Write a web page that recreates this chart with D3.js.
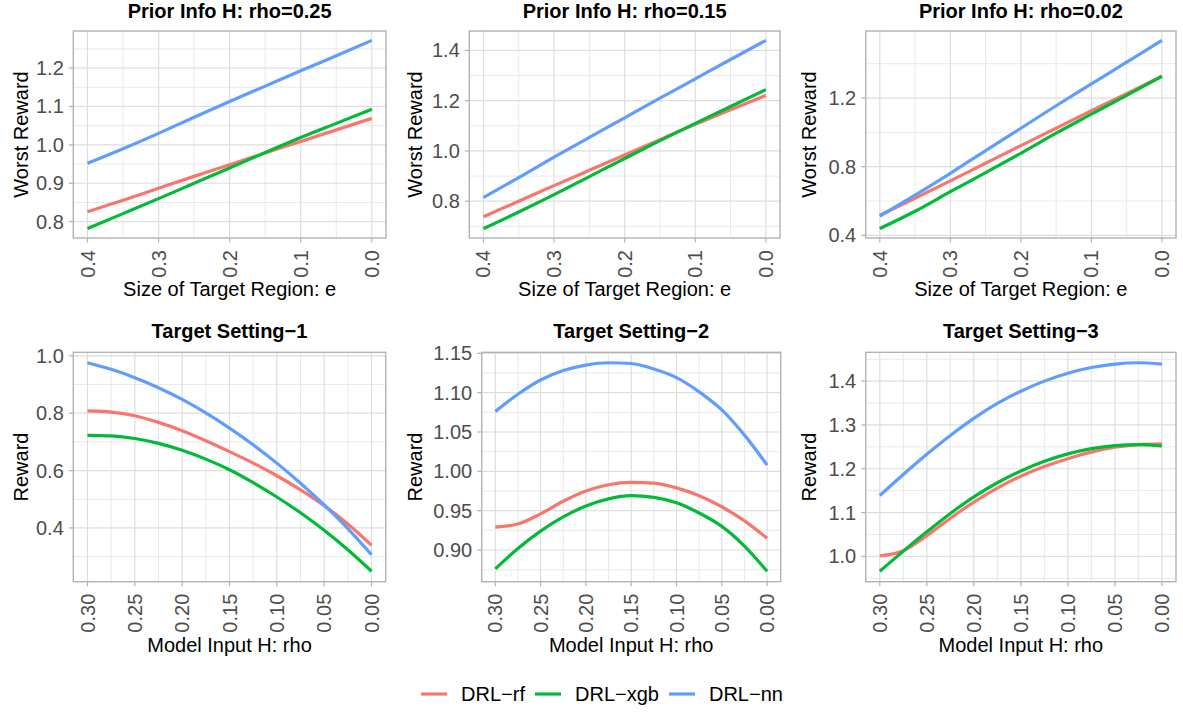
<!DOCTYPE html>
<html>
<head>
<meta charset="utf-8">
<script src="https://cdn.jsdelivr.net/npm/d3@7"></script>
<style>
  html, body { margin: 0; padding: 0; background: #ffffff; }
  svg { display: block; font-family: "Liberation Sans", Arial, Helvetica, sans-serif; }
</style>
</head>
<body>
<svg id="chart" width="1183" height="713"></svg>
<script>
// ---------------- DATA ----------------
const seriesNames = ["DRL\u2212rf", "DRL\u2212xgb", "DRL\u2212nn"];

const panelTitles = [
  "Prior Info H: rho=0.25", "Prior Info H: rho=0.15", "Prior Info H: rho=0.02",
  "Target Setting\u22121", "Target Setting\u22122", "Target Setting\u22123"
];
const topXTitle = "Size of Target Region: e";
const bottomXTitle = "Model Input H: rho";
const topYTitle = "Worst Reward";
const bottomYTitle = "Reward";

// x values
const eValues   = [0.40, 0.35, 0.30, 0.25, 0.20, 0.15, 0.10, 0.05, 0.00];
const rhoValues = [0.300, 0.275, 0.250, 0.225, 0.200, 0.175, 0.150, 0.125, 0.100, 0.075, 0.050, 0.025, 0.000];

// Panel 1: rho = 0.25
const p1_rf  = [0.826, 0.856, 0.887, 0.918, 0.948, 0.979, 1.009, 1.039, 1.069];
const p1_xgb = [0.782, 0.821, 0.860, 0.900, 0.940, 0.980, 1.019, 1.056, 1.093];
const p1_nn  = [0.952, 0.990, 1.030, 1.072, 1.113, 1.153, 1.193, 1.232, 1.272];
// Panel 2: rho = 0.15
const p2_rf  = [0.738, 0.800, 0.862, 0.923, 0.984, 1.045, 1.106, 1.164, 1.221];
const p2_xgb = [0.691, 0.757, 0.826, 0.898, 0.970, 1.041, 1.110, 1.177, 1.244];
const p2_nn  = [0.815, 0.894, 0.975, 1.054, 1.132, 1.210, 1.287, 1.364, 1.440];
// Panel 3: rho = 0.02
const p3_rf  = [0.517, 0.616, 0.717, 0.820, 0.923, 1.024, 1.126, 1.226, 1.327];
const p3_xgb = [0.439, 0.540, 0.654, 0.765, 0.878, 0.995, 1.106, 1.216, 1.327];
const p3_nn  = [0.511, 0.634, 0.761, 0.894, 1.024, 1.155, 1.282, 1.409, 1.536];
// Panel 4: Target Setting-1
const p4_rf  = [0.808, 0.804, 0.791, 0.768, 0.739, 0.704, 0.666, 0.626, 0.582, 0.533, 0.478, 0.414, 0.340];
const p4_xgb = [0.723, 0.721, 0.712, 0.695, 0.671, 0.640, 0.603, 0.558, 0.508, 0.453, 0.392, 0.324, 0.249];
const p4_nn  = [0.976, 0.953, 0.924, 0.889, 0.848, 0.801, 0.748, 0.690, 0.626, 0.556, 0.480, 0.398, 0.307];
// Panel 5: Target Setting-2
const p5_rf  = [0.929, 0.933, 0.946, 0.962, 0.975, 0.983, 0.986, 0.985, 0.979, 0.969, 0.955, 0.937, 0.915];
const p5_xgb = [0.876, 0.902, 0.924, 0.942, 0.956, 0.965, 0.969, 0.967, 0.960, 0.947, 0.930, 0.905, 0.873];
const p5_nn  = [1.076, 1.098, 1.116, 1.128, 1.135, 1.138, 1.137, 1.130, 1.119, 1.101, 1.078, 1.046, 1.008];
// Panel 6: Target Setting-3
const p6_rf  = [1.001, 1.013, 1.047, 1.087, 1.124, 1.156, 1.183, 1.205, 1.223, 1.238, 1.249, 1.255, 1.257];
const p6_xgb = [0.966, 1.012, 1.056, 1.098, 1.136, 1.168, 1.195, 1.217, 1.234, 1.246, 1.253, 1.255, 1.252];
const p6_nn  = [1.139, 1.187, 1.233, 1.276, 1.315, 1.349, 1.377, 1.400, 1.418, 1.431, 1.439, 1.442, 1.439];

// tick values / labels
const topXTicks = [0.4, 0.3, 0.2, 0.1, 0.0];
const topXTickLabels = ["0.4", "0.3", "0.2", "0.1", "0.0"];
const bottomXTicks = [0.30, 0.25, 0.20, 0.15, 0.10, 0.05, 0.00];
const bottomXTickLabels = ["0.30", "0.25", "0.20", "0.15", "0.10", "0.05", "0.00"];
const p1YTicks = [0.8, 0.9, 1.0, 1.1, 1.2];
const p1YTickLabels = ["0.8", "0.9", "1.0", "1.1", "1.2"];
const p2YTicks = [0.8, 1.0, 1.2, 1.4];
const p2YTickLabels = ["0.8", "1.0", "1.2", "1.4"];
const p3YTicks = [0.4, 0.8, 1.2];
const p3YTickLabels = ["0.4", "0.8", "1.2"];
const p4YTicks = [0.4, 0.6, 0.8, 1.0];
const p4YTickLabels = ["0.4", "0.6", "0.8", "1.0"];
const p5YTicks = [0.90, 0.95, 1.00, 1.05, 1.10, 1.15];
const p5YTickLabels = ["0.90", "0.95", "1.00", "1.05", "1.10", "1.15"];
const p6YTicks = [1.0, 1.1, 1.2, 1.3, 1.4];
const p6YTickLabels = ["1.0", "1.1", "1.2", "1.3", "1.4"];

// ---------------- STYLE / LAYOUT ----------------
const colors = ["#F8766D", "#00BA38", "#619CFF"];
const FONT_TICK = 20;
const FONT_AXIS = 20;
const FONT_TITLE = 20;
const FONT_LEGEND = 20;

const colLefts = [0, 394.33, 788.67];

const panels = [
  {x: eValues, series: [p1_rf, p1_xgb, p1_nn], xt: topXTicks, xtl: topXTickLabels, yt: p1YTicks, ytl: p1YTickLabels,
   rect: [73.3, 31, 386, 238], col: 0, xTitle: topXTitle, yTitle: topYTitle, xTitleY: 296, titleY: 18.3},
  {x: eValues, series: [p2_rf, p2_xgb, p2_nn], xt: topXTicks, xtl: topXTickLabels, yt: p2YTicks, ytl: p2YTickLabels,
   rect: [469.3, 31, 780, 238], col: 1, xTitle: topXTitle, yTitle: topYTitle, xTitleY: 296, titleY: 18.3},
  {x: eValues, series: [p3_rf, p3_xgb, p3_nn], xt: topXTicks, xtl: topXTickLabels, yt: p3YTicks, ytl: p3YTickLabels,
   rect: [865.7, 31, 1176, 238], col: 2, xTitle: topXTitle, yTitle: topYTitle, xTitleY: 296, titleY: 18.3},
  {x: rhoValues, series: [p4_rf, p4_xgb, p4_nn], xt: bottomXTicks, xtl: bottomXTickLabels, yt: p4YTicks, ytl: p4YTickLabels,
   rect: [73.3, 352.3, 385.7, 581.7], col: 0, xTitle: bottomXTitle, yTitle: bottomYTitle, xTitleY: 652, titleY: 337.5},
  {x: rhoValues, series: [p5_rf, p5_xgb, p5_nn], xt: bottomXTicks, xtl: bottomXTickLabels, yt: p5YTicks, ytl: p5YTickLabels,
   rect: [481.7, 352.3, 780.7, 581.7], col: 1, xTitle: bottomXTitle, yTitle: bottomYTitle, xTitleY: 652, titleY: 337.5},
  {x: rhoValues, series: [p6_rf, p6_xgb, p6_nn], xt: bottomXTicks, xtl: bottomXTickLabels, yt: p6YTicks, ytl: p6YTickLabels,
   rect: [865.7, 352.3, 1176, 581.7], col: 2, xTitle: bottomXTitle, yTitle: bottomYTitle, xTitleY: 652, titleY: 337.5}
];

const svg = d3.select("#chart");

function minorBreaks(ticks, domain) {
  const step = ticks[1] - ticks[0];
  const lo = Math.min(domain[0], domain[1]), hi = Math.max(domain[0], domain[1]);
  const out = [];
  const all = [ticks[0] - step].concat(ticks, [ticks[ticks.length - 1] + step]);
  for (let i = 0; i < all.length - 1; i++) {
    const m = (all[i] + all[i + 1]) / 2;
    if (m >= lo && m <= hi) out.push(m);
  }
  return out;
}

panels.forEach((p, idx) => {
  const [x0, y0, x1, y1] = p.rect;
  const xmin = d3.min(p.x), xmax = d3.max(p.x);
  const xpad = (xmax - xmin) * 0.05;
  const x = d3.scaleLinear().domain([xmax + xpad, xmin - xpad]).range([x0, x1]);
  const allY = p.series.flat();
  const ymin = d3.min(allY), ymax = d3.max(allY);
  const ypad = (ymax - ymin) * 0.05;
  const y = d3.scaleLinear().domain([ymin - ypad, ymax + ypad]).range([y1, y0]);

  const g = svg.append("g");

  // minor grid
  const xMinor = minorBreaks(p.xt.slice().sort((a, b) => a - b), x.domain());
  const yMinor = minorBreaks(p.yt, y.domain());
  g.selectAll(".xmin").data(xMinor).enter().append("line")
    .attr("x1", d => x(d)).attr("x2", d => x(d)).attr("y1", y0).attr("y2", y1)
    .attr("stroke", "#e3e3e3").attr("stroke-width", 0.8);
  g.selectAll(".ymin").data(yMinor).enter().append("line")
    .attr("y1", d => y(d)).attr("y2", d => y(d)).attr("x1", x0).attr("x2", x1)
    .attr("stroke", "#e3e3e3").attr("stroke-width", 0.8);
  // major grid
  g.selectAll(".xmaj").data(p.xt).enter().append("line")
    .attr("x1", d => x(d)).attr("x2", d => x(d)).attr("y1", y0).attr("y2", y1)
    .attr("stroke", "#dedede").attr("stroke-width", 1.2);
  g.selectAll(".ymaj").data(p.yt).enter().append("line")
    .attr("y1", d => y(d)).attr("y2", d => y(d)).attr("x1", x0).attr("x2", x1)
    .attr("stroke", "#dedede").attr("stroke-width", 1.2);

  // lines
  const line = d3.line()
    .x(d => x(d[0])).y(d => y(d[1]))
    .curve(d3.curveMonotoneX);
  p.series.forEach((vals, si) => {
    const pts = p.x.map((xv, i) => [xv, vals[i]]).sort((a, b) => x(a[0]) - x(b[0]));
    g.append("path").datum(pts)
      .attr("d", line)
      .attr("fill", "none")
      .attr("stroke", colors[si])
      .attr("stroke-width", 3.2)
      .attr("stroke-linecap", "butt");
  });

  // border
  g.append("rect").attr("x", x0).attr("y", y0).attr("width", x1 - x0).attr("height", y1 - y0)
    .attr("fill", "none").attr("stroke", "#b3b3b3").attr("stroke-width", 1.4);

  // ticks
  g.selectAll(".xtick").data(p.xt).enter().append("line")
    .attr("x1", d => x(d)).attr("x2", d => x(d)).attr("y1", y1).attr("y2", y1 + 4.5)
    .attr("stroke", "#b3b3b3").attr("stroke-width", 1.2);
  g.selectAll(".ytick").data(p.yt).enter().append("line")
    .attr("y1", d => y(d)).attr("y2", d => y(d)).attr("x1", x0 - 4.5).attr("x2", x0)
    .attr("stroke", "#b3b3b3").attr("stroke-width", 1.2);

  // tick labels
  g.selectAll(".xtl").data(p.xt).enter().append("text")
    .attr("transform", d => `translate(${x(d)},${y1 + 12}) rotate(-90)`)
    .attr("text-anchor", "end").attr("dy", "0.35em")
    .attr("font-size", FONT_TICK).attr("fill", "#4d4d4d")
    .text((d, i) => p.xtl[i]);
  g.selectAll(".ytl").data(p.yt).enter().append("text")
    .attr("x", x0 - 9.5).attr("y", d => y(d)).attr("dy", "0.35em")
    .attr("text-anchor", "end")
    .attr("font-size", FONT_TICK).attr("fill", "#4d4d4d")
    .text((d, i) => p.ytl[i]);

  // titles
  g.append("text").attr("x", (x0 + x1) / 2).attr("y", p.titleY)
    .attr("text-anchor", "middle").attr("font-size", FONT_TITLE).attr("font-weight", "bold")
    .attr("fill", "#000").text(panelTitles[idx]);
  g.append("text").attr("x", (x0 + x1) / 2).attr("y", p.xTitleY)
    .attr("text-anchor", "middle").attr("font-size", FONT_AXIS).attr("fill", "#000")
    .text(p.xTitle);
  g.append("text")
    .attr("transform", `translate(${colLefts[p.col] + 27.5},${(y0 + y1) / 2}) rotate(-90)`)
    .attr("text-anchor", "middle").attr("font-size", FONT_AXIS).attr("fill", "#000")
    .text(p.yTitle);
});

// legend
const legendY = 694;
const keyW = 26, keyGap = 14, itemGap = 10;
const lg = svg.append("g");
const tmp = lg.append("text").attr("font-size", FONT_LEGEND);
const widths = seriesNames.map(n => { tmp.text(n); return tmp.node().getComputedTextLength(); });
tmp.remove();
const totalW = d3.sum(widths) + seriesNames.length * (keyW + keyGap) + (seriesNames.length - 1) * itemGap;
let cx = 602 - totalW / 2;
seriesNames.forEach((n, i) => {
  lg.append("line").attr("x1", cx).attr("x2", cx + keyW).attr("y1", legendY).attr("y2", legendY)
    .attr("stroke", colors[i]).attr("stroke-width", 3.2);
  lg.append("text").attr("x", cx + keyW + keyGap).attr("y", legendY).attr("dy", "0.35em")
    .attr("font-size", FONT_LEGEND).attr("fill", "#000").text(n);
  cx += keyW + keyGap + widths[i] + itemGap;
});
</script>
</body>
</html>
